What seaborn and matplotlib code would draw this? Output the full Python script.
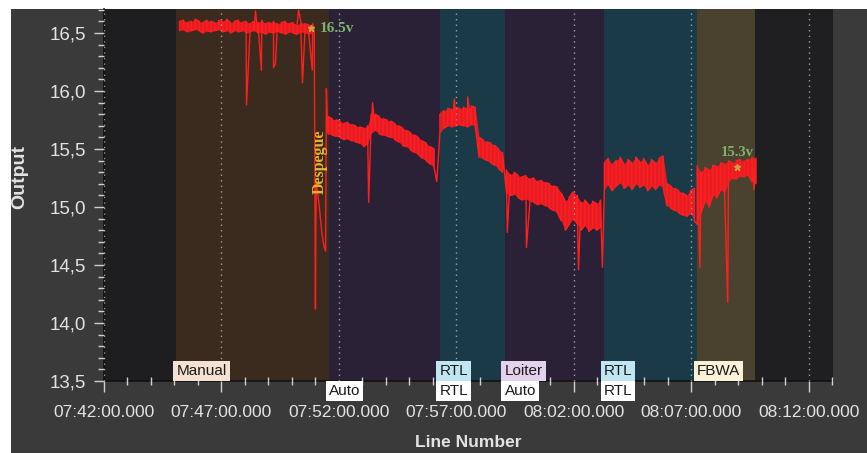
import pandas as pd
import matplotlib
matplotlib.use("Agg")
import matplotlib.pyplot as plt
import matplotlib.dates as mdates
from matplotlib.patches import Rectangle
from matplotlib.ticker import MultipleLocator, FuncFormatter
import seaborn as sns

DAY = "2000-01-01 "
STEP_S = 10  # spacing of the envelope samples, seconds

# ---- flight-mode background bands ----
band_starts = ["07:42:00", "07:45:05", "07:51:34", "07:56:17", "07:59:03", "08:03:16", "08:07:14", "08:09:44"]
band_ends = ["07:45:05", "07:51:34", "07:56:17", "07:59:03", "08:03:16", "08:07:14", "08:09:44", "08:13:02"]
band_colors = ["#1e1e20", "#3b2a1e", "#2b2137", "#1b3a48", "#2b2137", "#1b3a48", "#4a412f", "#1f1f21"]

# ---- mode labels (upper row inside the plot, lower row under the axis) ----
upper_labels = ["Manual", "RTL", "Loiter", "RTL", "FBWA"]
upper_times = ["07:45:05", "07:56:17", "07:59:03", "08:03:16", "08:07:14"]
upper_bg = ["#f5e1d3", "#c0e6f3", "#e4d2ec", "#c0e6f3", "#fbf1d8"]
lower_labels = ["Auto", "RTL", "Auto", "RTL"]
lower_times = ["07:51:34", "07:56:17", "07:59:03", "08:03:16"]

# ---- battery voltage: low/high envelope of the noisy trace per segment ----
seg_starts = ["07:45:13", "07:51:33", "07:56:18", "07:59:08", "08:03:18", "08:07:15"]

manual_lo = [16.52, 16.53, 16.51, 16.52, 16.53, 16.52, 16.50, 16.52, 16.51, 16.52, 16.53, 16.51,
             16.52, 16.50, 16.52, 16.51, 16.52, 16.50, 16.51, 16.52, 16.50, 16.51, 16.49, 16.51,
             16.50, 16.52, 16.50, 16.49, 16.51, 16.50, 16.49, 16.51, 16.50, 16.49, 16.50]
manual_hi = [16.60, 16.61, 16.59, 16.60, 16.62, 16.60, 16.59, 16.61, 16.60, 16.59, 16.61, 16.60,
             16.62, 16.59, 16.60, 16.61, 16.59, 16.60, 16.58, 16.60, 16.59, 16.61, 16.58, 16.59,
             16.60, 16.58, 16.59, 16.60, 16.58, 16.59, 16.57, 16.59, 16.58, 16.57, 16.58]

auto1_lo = [15.63, 15.62, 15.61, 15.60, 15.58, 15.59, 15.57, 15.56, 15.55, 15.52, 15.55, 15.64,
            15.66, 15.63, 15.62, 15.61, 15.60, 15.58, 15.56, 15.53, 15.52, 15.49, 15.47, 15.45,
            15.42, 15.40, 15.37, 15.34]
auto1_hi = [15.78, 15.76, 15.75, 15.74, 15.72, 15.73, 15.71, 15.70, 15.69, 15.68, 15.70, 15.80,
            15.80, 15.78, 15.76, 15.75, 15.74, 15.72, 15.70, 15.68, 15.66, 15.64, 15.62, 15.60,
            15.57, 15.55, 15.52, 15.50]

rtl1_lo = [15.64, 15.68, 15.70, 15.69, 15.70, 15.71, 15.70, 15.69, 15.71, 15.70, 15.43, 15.42,
           15.40, 15.38, 15.36, 15.33, 15.30]
rtl1_hi = [15.80, 15.83, 15.85, 15.84, 15.86, 15.85, 15.86, 15.84, 15.87, 15.86, 15.60, 15.58,
           15.56, 15.55, 15.53, 15.50, 15.47]

loiter_lo = [15.12, 15.10, 15.11, 15.08, 15.06, 15.07, 15.05, 15.04, 15.02, 15.03, 15.01, 14.99,
             14.97, 14.95, 14.88, 14.80, 14.85, 14.90, 14.86, 14.80, 14.84, 14.79, 14.82, 14.80, 14.83]
loiter_hi = [15.32, 15.28, 15.30, 15.27, 15.26, 15.27, 15.24, 15.25, 15.22, 15.23, 15.21, 15.20,
             15.18, 15.17, 15.12, 15.05, 15.08, 15.13, 15.10, 15.04, 15.06, 15.02, 15.05, 15.03, 15.06]

rtl2_lo = [15.15, 15.20, 15.14, 15.18, 15.21, 15.16, 15.19, 15.15, 15.20, 15.17, 15.19, 15.14,
           15.18, 15.15, 15.19, 15.17, 15.01, 14.99, 14.97, 14.95, 14.93, 14.92, 14.95, 14.88]
rtl2_hi = [15.38, 15.42, 15.36, 15.40, 15.43, 15.37, 15.41, 15.38, 15.43, 15.39, 15.42, 15.36,
           15.41, 15.38, 15.42, 15.44, 15.20, 15.18, 15.16, 15.14, 15.12, 15.10, 15.14, 15.16]

fbwa_lo = [14.85, 14.95, 15.05, 15.00, 15.10, 15.08, 15.15, 15.12, 15.22, 15.25, 15.24, 15.27,
           15.26, 15.28, 15.22, 15.20]
fbwa_hi = [15.36, 15.30, 15.34, 15.32, 15.36, 15.35, 15.38, 15.37, 15.40, 15.38, 15.40, 15.41,
           15.39, 15.41, 15.43, 15.42]

seg_lo = [manual_lo, auto1_lo, rtl1_lo, loiter_lo, rtl2_lo, fbwa_lo]
seg_hi = [manual_hi, auto1_hi, rtl1_hi, loiter_hi, rtl2_hi, fbwa_hi]

# voltage sag at takeoff
takeoff_times = ["07:50:57", "07:51:00", "07:51:02", "07:51:06", "07:51:10", "07:51:14",
                 "07:51:18", "07:51:22", "07:51:26", "07:51:28", "07:51:31"]
takeoff_volts = [16.52, 14.12, 15.22, 15.12, 15.00, 14.86, 14.74, 14.66, 14.62, 16.02, 15.70]

# isolated glitches in the log
spike_times = ["07:48:04", "07:48:27", "07:48:42", "07:49:13", "07:49:18", "07:50:17", "07:50:27",
               "07:50:52", "07:53:16", "07:53:26", "07:56:10", "07:56:55", "07:57:29", "07:59:10",
               "07:59:59", "08:02:12", "08:03:13", "08:07:22", "08:08:33", "08:09:40"]
spike_volts = [15.88, 16.69, 16.18, 16.20, 16.24, 16.70, 16.07,
               16.18, 15.04, 15.90, 15.22, 15.93, 15.95, 14.78,
               14.65, 14.46, 14.48, 14.48, 14.18, 15.15]

# annotated readings
mark_times = ["07:50:48", "08:08:56"]
mark_volts = [16.54, 15.345]
mark_texts = ["16.5v", "15.3v"]


def ts(hms):
    return pd.Timestamp(DAY + hms)


# ---- assemble the trace (ordered points) ----
rows = []
for start, lo, hi in zip(seg_starts, seg_lo, seg_hi):
    t0 = ts(start)
    for i, (a, b) in enumerate(zip(lo, hi)):
        t = t0 + pd.Timedelta(seconds=STEP_S * i)
        pair = (a, b) if i % 2 == 0 else (b, a)
        rows.append((t, pair[0]))
        rows.append((t, pair[1]))
for t, v in zip(takeoff_times, takeoff_volts):
    rows.append((ts(t), v))
for t, v in zip(spike_times, spike_volts):
    rows.append((ts(t), v))
trace = pd.DataFrame(rows, columns=["time", "volts"])
trace = trace.sort_values("time", kind="stable").reset_index(drop=True)

# ---- styling ----
sns.set_theme(style="ticks")
plt.rcParams["font.family"] = ["Liberation Sans", "DejaVu Sans"]

FIG_BG = "#3a3a3a"
TXT = "#e2e2e2"
RED = "#ff1f1f"

fig = plt.figure(figsize=(8.67, 4.53), dpi=100, facecolor="white")
fig.patches.append(Rectangle((11 / 867, 0), 1, (453 - 9) / 453, transform=fig.transFigure,
                             facecolor=FIG_BG, edgecolor="none", zorder=-10))
ax = fig.add_axes([104 / 867, 1 - 381 / 453, (833 - 104) / 867, (381 - 9) / 453])
ax.set_facecolor("#1e1e20")

for s, e, c in zip(band_starts, band_ends, band_colors):
    ax.axvspan(ts(s), ts(e), facecolor=c, edgecolor="none", zorder=0)

# envelope fill under the trace
for start, lo, hi in zip(seg_starts, seg_lo, seg_hi):
    t0 = ts(start)
    tt = [t0 + pd.Timedelta(seconds=STEP_S * i) for i in range(len(lo))]
    ax.fill_between(tt, lo, hi, color="#f01c24", alpha=0.95, linewidth=0, zorder=2)

sns.lineplot(data=trace, x="time", y="volts", sort=False, estimator=None,
             color=RED, linewidth=1.0, ax=ax, zorder=3)

# readings
for t, v in zip(mark_times, mark_volts):
    ax.plot(ts(t), v, marker="*", ms=5, color="#c9a23c", zorder=5)
ax.text(ts("07:51:10"), 16.535, mark_texts[0], color="#7db36b", fontsize=11,
        family=["Liberation Serif"], fontweight="bold", ha="left", va="center", zorder=6)
ax.text(ts("08:08:58"), 15.47, mark_texts[1], color="#7db36b", fontsize=10.5,
        family=["Liberation Serif"], fontweight="bold", ha="center", va="center", zorder=6)
ax.text(ts("07:51:10"), 15.39, "Despegue", color="#e6b52e", fontsize=11.5, rotation=90,
        family=["Liberation Serif"], fontweight="bold", ha="center", va="center", zorder=6)

# mode labels
xform = ax.get_xaxis_transform()
for lab, t, bg in zip(upper_labels, upper_times, upper_bg):
    ax.text(ts(t), 0.008, lab, transform=xform, ha="left", va="bottom", fontsize=11,
            color="#1a1a1a", zorder=7,
            bbox=dict(boxstyle="square,pad=0.2", facecolor=bg, edgecolor="none"))
for lab, t in zip(lower_labels, lower_times):
    ax.text(ts(t), -0.008, lab, transform=xform, ha="left", va="top", fontsize=11,
            color="#1a1a1a", zorder=7, clip_on=False,
            bbox=dict(boxstyle="square,pad=0.2", facecolor="white", edgecolor="none"))

# axes
ax.set_xlim(ts("07:42:00"), ts("08:13:02"))
ax.set_ylim(13.5, 16.707)
ax.xaxis.set_major_locator(mdates.MinuteLocator(byminute=range(2, 60, 5)))
ax.xaxis.set_minor_locator(mdates.MinuteLocator())
ax.xaxis.set_major_formatter(mdates.DateFormatter("%H:%M:%S.000"))
ax.yaxis.set_major_locator(MultipleLocator(0.5))
ax.yaxis.set_minor_locator(MultipleLocator(0.1))
ax.yaxis.set_major_formatter(FuncFormatter(lambda v, p: f"{v:.1f}".replace(".", ",")))

ax.grid(False)
ax.grid(axis="x", which="major", color="#d0d0d0", linestyle=(0, (1, 3)), linewidth=1.0,
        alpha=0.7, zorder=1)
ax.set_axisbelow(False)

ax.tick_params(axis="x", which="major", direction="out", length=8, width=1, color="#cfcfcf",
               labelsize=12.5, labelcolor=TXT, pad=9)
ax.tick_params(axis="x", which="minor", direction="inout", length=6, width=1, color="#cfcfcf")
ax.tick_params(axis="y", which="major", direction="out", length=7, width=1, color="#cfcfcf",
               labelsize=13.5, labelcolor=TXT, pad=6)
ax.tick_params(axis="y", which="minor", direction="out", length=4, width=1, color="#cfcfcf")

for side in ("top", "right"):
    ax.spines[side].set_visible(False)
for side in ("left", "bottom"):
    ax.spines[side].set_color("#111111")
    ax.spines[side].set_linewidth(1.2)

ax.set_xlabel("Line Number", fontsize=12.5, fontweight="bold", color=TXT)
ax.set_ylabel("Output", fontsize=14, fontweight="bold", color=TXT)
ax.xaxis.set_label_coords(0.5, -0.145)
ax.yaxis.set_label_coords(-0.104, 0.548)

fig.savefig("out.png", dpi=100, facecolor=fig.get_facecolor())
